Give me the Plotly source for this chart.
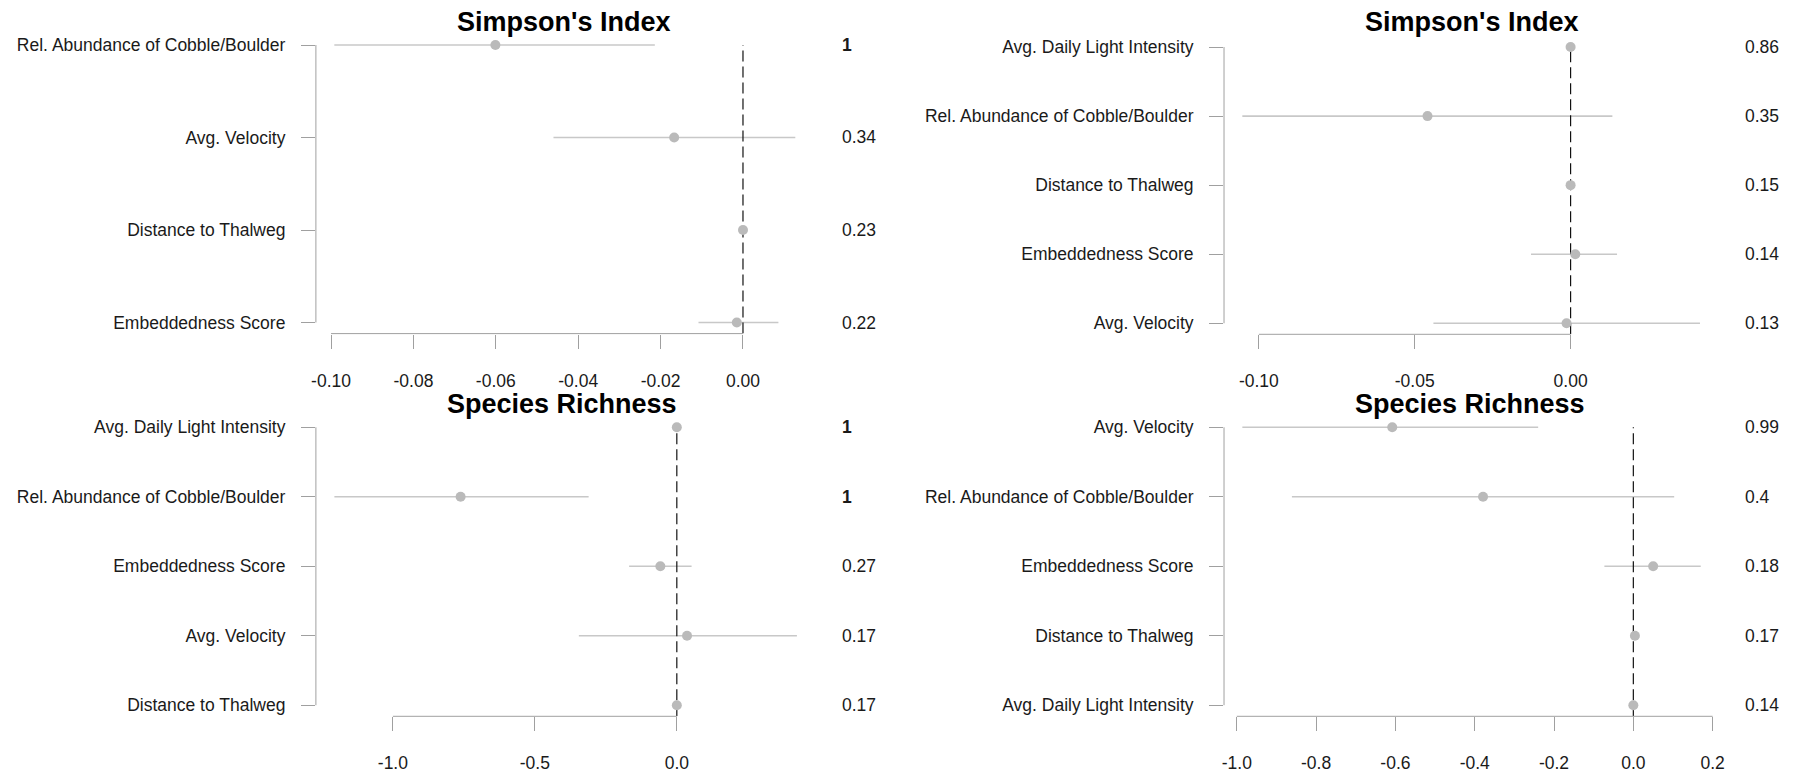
import plotly.graph_objects as go

# ---- data -------------------------------------------------------------
# Simpson's Index, model A (rows listed top to bottom)
simpA_names = ["Rel. Abundance of Cobble/Boulder", "Avg. Velocity",
               "Distance to Thalweg", "Embeddedness Score"]
simpA_est = [-0.0601, -0.0167, 0.0, -0.0015]
simpA_lo = [-0.0992, -0.0460, -0.0004, -0.0108]
simpA_hi = [-0.0214, 0.0127, 0.0004, 0.0086]
simpA_prob = [1, 0.34, 0.23, 0.22]
simpA_ticks = [-0.10, -0.08, -0.06, -0.04, -0.02, 0.00]
simpA_ticktext = ["-0.10", "-0.08", "-0.06", "-0.04", "-0.02", "0.00"]

# Simpson's Index, model B
simpB_names = ["Avg. Daily Light Intensity", "Rel. Abundance of Cobble/Boulder",
               "Distance to Thalweg", "Embeddedness Score", "Avg. Velocity"]
simpB_est = [0.0, -0.0459, 0.0, 0.0015, -0.0013]
simpB_lo = [-0.0003, -0.1053, -0.0003, -0.0127, -0.0440]
simpB_hi = [0.0003, 0.0134, 0.0003, 0.0149, 0.0415]
simpB_prob = [0.86, 0.35, 0.15, 0.14, 0.13]
simpB_ticks = [-0.10, -0.05, 0.00]
simpB_ticktext = ["-0.10", "-0.05", "0.00"]

# Species Richness, model A
richA_names = ["Avg. Daily Light Intensity", "Rel. Abundance of Cobble/Boulder",
               "Embeddedness Score", "Avg. Velocity", "Distance to Thalweg"]
richA_est = [0.0, -0.7615, -0.058, 0.036, 0.0]
richA_lo = [-0.003, -1.206, -0.168, -0.345, -0.003]
richA_hi = [0.003, -0.3106, 0.052, 0.423, 0.003]
richA_prob = [1, 1, 0.27, 0.17, 0.17]
richA_ticks = [-1.0, -0.5, 0.0]
richA_ticktext = ["-1.0", "-0.5", "0.0"]

# Species Richness, model B
richB_names = ["Avg. Velocity", "Rel. Abundance of Cobble/Boulder",
               "Embeddedness Score", "Distance to Thalweg", "Avg. Daily Light Intensity"]
richB_est = [-0.608, -0.379, 0.050, 0.004, 0.0]
richB_lo = [-0.986, -0.861, -0.073, -0.002, -0.002]
richB_hi = [-0.240, 0.103, 0.170, 0.010, 0.002]
richB_prob = [0.99, 0.4, 0.18, 0.17, 0.14]
richB_ticks = [-1.0, -0.8, -0.6, -0.4, -0.2, 0.0, 0.2]
richB_ticktext = ["-1.0", "-0.8", "-0.6", "-0.4", "-0.2", "0.0", "0.2"]

# ---- layout helpers ---------------------------------------------------
W, H = 1803, 773
FONT = "Liberation Sans, Arial, sans-serif"
AXIS_GREY = "#a0a0a0"
TEXT = "#1a1a1a"


def px_x(v):
    return v / W


def px_y(v):
    return 1 - v / H


panels = [
    dict(title="Simpson's Index", names=simpA_names, est=simpA_est, lo=simpA_lo,
         hi=simpA_hi, prob=simpA_prob, ticks=simpA_ticks, ticktext=simpA_ticktext,
         xdom=(312.8, 813.7), ydom=(33.9, 333.6), title_x=562, title_y=22, val_x=840),
    dict(title="Simpson's Index", names=simpB_names, est=simpB_est, lo=simpB_lo,
         hi=simpB_hi, prob=simpB_prob, ticks=simpB_ticks, ticktext=simpB_ticktext,
         xdom=(1226.5, 1723.8), ydom=(36.0, 334.3), title_x=1475, title_y=22, val_x=1749),
    dict(title="Species Richness", names=richA_names, est=richA_est, lo=richA_lo,
         hi=richA_hi, prob=richA_prob, ticks=richA_ticks, ticktext=richA_ticktext,
         xdom=(312.8, 815.4), ydom=(416.2, 716.3), title_x=560, title_y=404, val_x=840),
    dict(title="Species Richness", names=richB_names, est=richB_est, lo=richB_lo,
         hi=richB_hi, prob=richB_prob, ticks=richB_ticks, ticktext=richB_ticktext,
         xdom=(1226.5, 1724.6), ydom=(416.2, 716.3), title_x=1474, title_y=404, val_x=1749),
]

fig = go.Figure()
shapes = []
annotations = []

for i, p in enumerate(panels, start=1):
    xa = "x" if i == 1 else f"x{i}"
    ya = "y" if i == 1 else f"y{i}"
    n = len(p["names"])
    rows = list(range(n, 0, -1))  # first entry drawn at the top

    # R-style ranges: data extent padded by 4% on each side
    xmin, xmax = min(p["lo"]), max(p["hi"])
    xpad = 0.04 * (xmax - xmin)
    xr = [xmin - xpad, xmax + xpad]
    ypad = 0.04 * (n - 1)
    yr = [1 - ypad, n + ypad]

    # interval whiskers
    cx, cy = [], []
    for lo, hi, r in zip(p["lo"], p["hi"], rows):
        cx += [lo, hi, None]
        cy += [r, r, None]
    fig.add_trace(go.Scatter(x=cx, y=cy, mode="lines", xaxis=xa, yaxis=ya,
                             line=dict(color="#c8c8c8", width=1.6),
                             hoverinfo="skip", showlegend=False))
    # zero reference line
    fig.add_trace(go.Scatter(x=[0, 0], y=[yr[0], n], mode="lines", xaxis=xa, yaxis=ya,
                             line=dict(color="#111111", width=1.2, dash="11px,5px"),
                             hoverinfo="skip", showlegend=False))
    # point estimates
    fig.add_trace(go.Scatter(x=p["est"], y=rows, mode="markers", xaxis=xa, yaxis=ya,
                             marker=dict(color="#bababa", size=10),
                             showlegend=False))

    ax_common = dict(showgrid=False, zeroline=False, showline=False,
                     ticks="outside", ticklen=14, tickwidth=1, tickcolor=AXIS_GREY,
                     tickfont=dict(family=FONT, size=17.5, color=TEXT),
                     fixedrange=True)
    fig.layout[("xaxis" if i == 1 else f"xaxis{i}")] = dict(
        ax_common, domain=[px_x(p["xdom"][0]), px_x(p["xdom"][1])], range=xr,
        tickvals=p["ticks"], ticktext=p["ticktext"], anchor=ya,
        ticklabelstandoff=17)
    fig.layout[("yaxis" if i == 1 else f"yaxis{i}")] = dict(
        ax_common, domain=[px_y(p["ydom"][1]), px_y(p["ydom"][0])], range=yr,
        tickvals=rows, ticktext=p["names"], anchor=xa,
        ticklabelstandoff=12)

    # axis lines spanning first to last tick only
    shapes.append(dict(type="line", xref=f"{xa} domain", yref=ya, x0=0, x1=0,
                       y0=1, y1=n, line=dict(color=AXIS_GREY, width=1)))
    shapes.append(dict(type="line", xref=xa, yref=f"{ya} domain",
                       x0=p["ticks"][0], x1=p["ticks"][-1], y0=0, y1=0,
                       line=dict(color=AXIS_GREY, width=1)))

    # panel title
    annotations.append(dict(text=f"<b>{p['title']}</b>", xref="paper", yref="paper",
                            x=px_x(p["title_x"]), y=px_y(p["title_y"]),
                            xanchor="center", yanchor="middle", showarrow=False,
                            font=dict(family=FONT, size=27, color="#000000")))
    # inclusion probabilities in the right margin
    for prob, r in zip(p["prob"], rows):
        label = f"<b>{prob:g}</b>" if prob >= 1 else f"{prob:g}"
        annotations.append(dict(text=label, xref="paper", yref=ya,
                                x=px_x(p["val_x"]), y=r,
                                xanchor="left", yanchor="middle", showarrow=False,
                                font=dict(family=FONT, size=17.5, color=TEXT)))

fig.update_layout(width=W, height=H, margin=dict(l=0, r=0, t=0, b=0),
                  paper_bgcolor="white", plot_bgcolor="white",
                  shapes=shapes, annotations=annotations, showlegend=False)

fig.write_html("out.html", config={"displayModeBar": False})
